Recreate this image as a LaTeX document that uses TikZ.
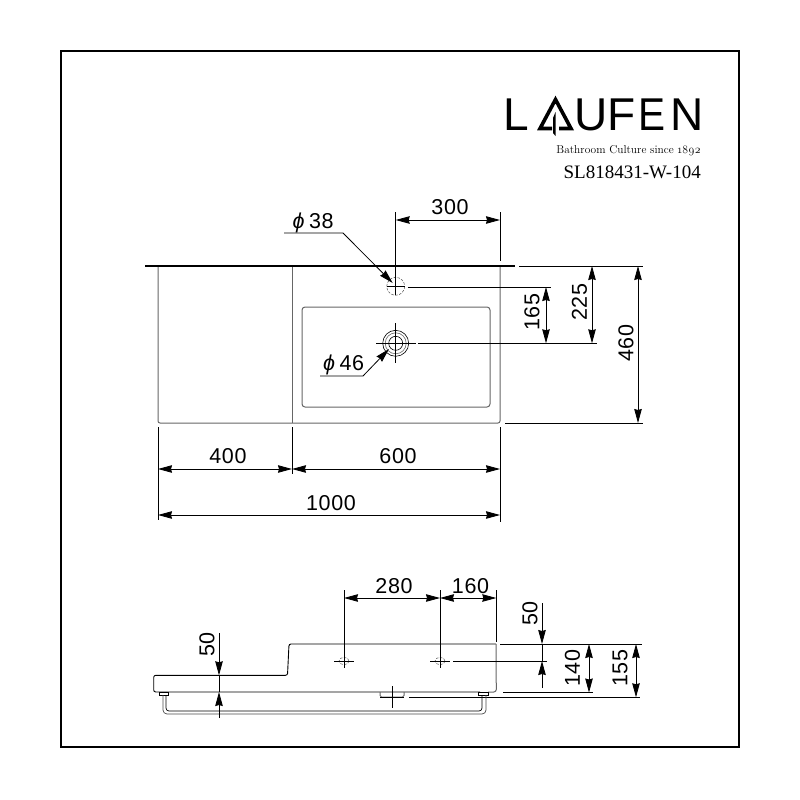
\documentclass[tikz,border=0pt]{standalone}
\usepackage{fontspec}
\setmainfont{Liberation Sans}
\newfontfamily\serifface{Liberation Serif}
\newfontfamily\dimface[LetterSpace=3]{Liberation Sans}
\newfontfamily\tagface[Numbers=OldStyle]{Latin Modern Roman}
\usetikzlibrary{arrows.meta}
\tikzset{
  x=1pt,y=-1pt,
  frameline/.style={draw=black,line width=2pt},
  outline/.style={draw=black!60,line width=1pt},
  blackline/.style={draw=black,line width=0.9pt},
  extline/.style={draw=black,line width=0.8pt},
  dimline/.style={draw=black,line width=0.8pt,{Stealth[length=14pt,width=7.5pt,inset=1pt]}-{Stealth[length=14pt,width=7.5pt,inset=1pt]}},
  arrowend/.style={draw=black,line width=0.8pt,-{Stealth[length=14pt,width=7.5pt,inset=1pt]}},
  dimtext/.style={inner sep=0pt,font=\dimface\fontsize{21.5}{21.5}\selectfont},
  dimtextv/.style={dimtext,rotate=90},
  logotext/.style={inner sep=0pt,anchor=base west,font=\fontsize{46}{46}\selectfont},
  hiddenhole/.style={draw=black!70,line width=0.5pt,dash pattern=on 2.5pt off 1.5pt},
}
\begin{document}
\begin{tikzpicture}
\useasboundingbox (0,0) rectangle (800,800);
\fill[white] (0,0) rectangle (800,800);
\draw[frameline] (61,51) rectangle (739,747);

% logo
\node[logotext] (logoL) at (503.5,130) {L};
\node[logotext] (logoU) at (574.5,130) {U};
\node[logotext] (logoF) at (607.3,130) {F};
\node[logotext,transform shape,xscale=0.88] (logoE) at (638.3,130) {E};
\node[logotext] (logoN) at (670.5,130) {N};
\draw[black,line width=3.6pt,miter limit=4] (552,128.5) -- (540,128.5) -- (555.5,99.5) -- (571,128.5) -- (559,128.5);
\fill[black] (555.5,112) -- (553,118) -- (553,133) -- (555.5,136) -- cycle;
\node[inner sep=0pt,anchor=base east,font=\tagface\fontsize{11.4}{12}\selectfont] (tagline) at (701,153) {Bathroom Culture since 1892};
\node[inner sep=0pt,anchor=base east,font=\serifface\fontsize{19}{19}\selectfont] (model) at (701,178) {SL818431-W-104};

% top view outline
\coordinate (tl) at (158,266);
\coordinate (tdiv) at (292,266);
\coordinate (tr) at (500,266);
\draw[outline,rounded corners=2pt] (tl) -- (158,423) -- (500,423) -- (tr);
\draw[outline] (tdiv) -- (292,423);
\draw[outline,rounded corners=3pt] (302,307) rectangle (490,407);
\draw[draw=black,line width=2pt] (145,266) -- (515,266);

% top holes
\coordinate (tap) at (395.7,286.3);
\coordinate (drain) at (395.7,343.3);
\draw[hiddenhole] (tap) circle (9);
\draw[extline,line width=0.5pt] (387,286.3) -- (405,286.3);
\draw[extline] (395.7,212) -- (395.7,295);
\draw[blackline,line width=0.6pt] (drain) circle (13);
\draw[draw=black!60,line width=0.6pt] (drain) circle (10.5);
\draw[blackline,line width=0.6pt] (drain) circle (7);
\draw[extline] (376,343.3) -- (416,343.3);
\draw[extline] (395.7,323) -- (395.7,363);

% diameter leaders
\coordinate (la0) at (284,233); \coordinate (la1) at (343,233); \coordinate (la2) at (392.7,283);
\draw[arrowend] (la0) -- (la1) -- (la2);
\node[dimtext,anchor=base west] (dia38) at (292.5,228) {\itshape ϕ\kern4.5pt\upshape\dimface 38};
\coordinate (lb0) at (320,376); \coordinate (lb1) at (363,376); \coordinate (lb2) at (389,349);
\draw[arrowend] (lb0) -- (lb1) -- (lb2);
\node[dimtext,anchor=base west] (dia46) at (323,370) {\itshape ϕ\kern4.5pt\upshape\dimface 46};

% top dims
\coordinate (d300a) at (395.7,220); \coordinate (d300b) at (500,220);
\draw[extline] (500,212) -- (500,261);
\draw[dimline] (d300a) -- (d300b);
\node[dimtext] (t300) at (450,207.5) {300};

\coordinate (ext225) at (519,266);
\draw[extline] (ext225) -- (643,266);
\draw[extline] (408,287) -- (551,287);
\draw[extline] (418,343.3) -- (597,343.3);
\draw[extline] (505,423) -- (643,423);
\draw[dimline] (546,287) -- (546,343.3);
\draw[dimline] (592,266) -- (592,343.3);
\draw[dimline] (638,266) -- (638,423);
\node[dimtextv] (t165) at (532,312) {165};
\node[dimtextv] (t225) at (579.5,302) {225};
\node[dimtextv] (t460) at (626,343) {460};

\draw[extline] (158,427) -- (158,520);
\draw[extline] (292,427) -- (292,474);
\draw[extline] (500,427) -- (500,522);
\draw[dimline] (158,469) -- (292,469);
\draw[dimline] (292,469) -- (500,469);
\draw[dimline] (158,515) -- (500,515);
\node[dimtext] (t400) at (228,456) {400};
\node[dimtext] (t600) at (398,456) {600};
\node[dimtext] (t1000) at (331,503) {1000};

% side view
\draw[blackline,rounded corners=2pt] (496,644) -- (289,644) -- (287.5,675.3) -- (153.7,675.3) -- (153.7,692) -- (480,692);
\draw[outline,rounded corners=2.5pt] (496,644) -- (496.3,692) -- (488,692);
\draw[blackline] (480,692) -- (488,692);
\draw[extline] (500,644) -- (642,644);
\draw[extline] (503,692.5) -- (593,692.5);
\draw[extline] (409,697.3) -- (640,697.3);
\draw[extline] (453,661) -- (547,661);

% rail
\draw[draw=black,line width=0.6pt] (159,692) rectangle (168,695);
\draw[draw=black,line width=0.6pt] (478,692.5) rectangle (488,695);
\draw[draw=black!70,line width=0.7pt,rounded corners=4pt] (163,695) -- (163,714) -- (486,714) -- (486,695);
\draw[draw=black,line width=0.7pt,rounded corners=3pt] (166,695) -- (166,711) -- (482,711) -- (482,695);

% waste
\draw[outline,rounded corners=1.5pt] (380,692) -- (380,697) -- (404,697) -- (404,692);
\draw[extline] (392.5,686) -- (392.5,708);
\draw[extline] (380,697) -- (404,697);

% side holes
\coordinate (s1) at (344,661); \coordinate (s2) at (440,661);
\draw[hiddenhole] (s1) ellipse (5 and 3.7);
\draw[hiddenhole] (s2) ellipse (5 and 3.7);
\draw[extline] (334,661) -- (354,661);
\draw[extline] (430,661) -- (450,661);
\draw[extline] (344,590) -- (344,668);
\draw[extline] (440,590) -- (440,668);
\draw[extline] (496.3,590) -- (496.3,642);
\draw[dimline] (344,598) -- (440,598);
\draw[dimline] (440,598) -- (496.3,598);
\node[dimtext] (t280) at (394,586) {280};
\node[dimtext] (t160) at (470.5,586) {160};

% side dims
\draw[arrowend] (219,633) -- (219,675.3);
\draw[extline] (219,675) -- (219,692);
\draw[arrowend] (219,718) -- (219,692);
\node[dimtextv] (t50a) at (207,644.5) {50};
\draw[arrowend] (542,603) -- (542,644);
\draw[extline] (542,644) -- (542,661);
\draw[arrowend] (542,688) -- (542,661);
\node[dimtextv] (t50b) at (530,613.5) {50};
\draw[dimline] (589,644) -- (589,692.5);
\draw[dimline] (636,644) -- (636,697.3);
\node[dimtextv] (t140) at (572.5,668) {140};
\node[dimtextv] (t155) at (620,668) {155};
\end{tikzpicture}
\end{document}
